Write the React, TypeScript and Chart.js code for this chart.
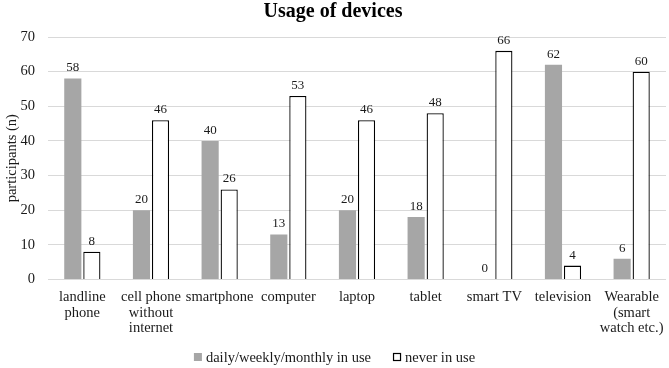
import React, { useEffect, useRef } from "react";
import { Chart, registerables } from "chart.js";

Chart.register(...registerables);

const categories: (string | string[])[] = [
  ["landline", "phone"],
  ["cell phone", "without", "internet"],
  "smartphone",
  "computer",
  "laptop",
  "tablet",
  "smart TV",
  "television",
  ["Wearable", "(smart", "watch etc.)"],
];
const inUse = [58, 20, 40, 13, 20, 18, 0, 62, 6];
const neverUse = [8, 46, 26, 53, 46, 48, 66, 4, 60];
const yTicksMax = 70;
const yStep = 10;

const FONT = "'Liberation Serif', 'Times New Roman', serif";
const TEXT = "#1a1a1a";

const valueLabels = {
  id: "valueLabels",
  afterDatasetsDraw(chart: any) {
    const ctx = chart.ctx;
    ctx.save();
    ctx.font = `13px ${FONT}`;
    ctx.fillStyle = TEXT;
    ctx.textAlign = "center";
    ctx.textBaseline = "bottom";
    chart.data.datasets.forEach((ds: any, di: number) => {
      const meta = chart.getDatasetMeta(di);
      meta.data.forEach((el: any, i: number) => {
        ctx.fillText(String(ds.data[i]), el.x, el.y - 4);
      });
    });
    ctx.restore();
  },
};

// Bottom legend drawn in the reserved bottom padding (Excel-like spacing)
const bottomLegend = {
  id: "bottomLegend",
  afterDraw(chart: any) {
    const ctx = chart.ctx;
    const box = 8;
    const textGap = 4;
    const itemGap = 22;
    ctx.save();
    ctx.font = `14.5px ${FONT}`;
    ctx.textBaseline = "middle";
    ctx.textAlign = "left";
    const items = chart.data.datasets.map((ds: any) => ({
      label: ds.label,
      fill: ds.backgroundColor,
      stroke: ds.borderWidth > 0 ? ds.borderColor : null,
      w: box + textGap + ctx.measureText(ds.label).width,
    }));
    const total = items.reduce((s: number, it: any) => s + it.w, 0) + itemGap * (items.length - 1);
    let x = chart.width / 2 - total / 2;
    const y = chart.height - 11;
    items.forEach((it: any) => {
      ctx.fillStyle = it.fill;
      ctx.fillRect(x, y - box / 2, box, box);
      if (it.stroke) {
        ctx.strokeStyle = it.stroke;
        ctx.lineWidth = 1.2;
        ctx.strokeRect(x + 0.5, y - box / 2 + 0.5, box - 1, box - 1);
      }
      ctx.fillStyle = TEXT;
      ctx.fillText(it.label, x + box + textGap, y + 1);
      x += it.w + itemGap;
    });
    ctx.restore();
  },
};

export default function App() {
  const ref = useRef<HTMLCanvasElement | null>(null);
  useEffect(() => {
    if (!ref.current) return;
    const chart = new Chart(ref.current, {
      type: "bar",
      data: {
        labels: categories,
        datasets: [
          {
            label: "daily/weekly/monthly in use",
            data: inUse,
            backgroundColor: "#a6a6a6",
            borderColor: "#a6a6a6",
            borderWidth: 0,
            categoryPercentage: 0.555,
            barPercentage: 0.9,
          },
          {
            label: "never in use",
            data: neverUse,
            backgroundColor: "#ffffff",
            borderColor: "#000000",
            borderWidth: 1.3,
            categoryPercentage: 0.555,
            barPercentage: 0.9,
          },
        ],
      },
      options: {
        animation: false,
        responsive: true,
        maintainAspectRatio: false,
        layout: { padding: { left: 0, right: 3, top: 0, bottom: 22 } },
        plugins: {
          title: {
            display: true,
            text: "Usage of devices",
            color: "#000",
            font: { family: FONT, size: 20, weight: "bold" },
            padding: { top: 0, bottom: 13 },
          },
          legend: { display: false },
          tooltip: { enabled: false },
        },
        scales: {
          x: {
            grid: { display: false, tickLength: 0 },
            border: { display: false },
            ticks: {
              color: TEXT,
              font: { family: FONT, size: 14.5, lineHeight: 1.07 },
              maxRotation: 0,
              autoSkip: false,
              padding: 10,
            },
            afterFit: (scale: any) => {
              scale.paddingLeft = 0;
              scale.paddingRight = 0;
            },
          },
          y: {
            min: 0,
            max: yTicksMax,
            ticks: {
              stepSize: yStep,
              color: TEXT,
              font: { family: FONT, size: 14.5 },
              padding: 13,
            },
            grid: { color: "#d9d9d9", drawTicks: false, tickLength: 0 },
            border: { display: false },
            title: {
              display: true,
              text: "participants (n)",
              color: TEXT,
              font: { family: FONT, size: 14.5 },
              padding: { top: 3, bottom: 2 },
            },
            afterFit: (scale: any) => {
              scale.width = 48;
            },
          },
        },
      },
      plugins: [valueLabels, bottomLegend],
    });
    return () => chart.destroy();
  }, []);
  return (
    <div style={{ position: "fixed", left: 0, top: 0, width: 669, height: 368, background: "#fff" }}>
      <canvas ref={ref} />
    </div>
  );
}
